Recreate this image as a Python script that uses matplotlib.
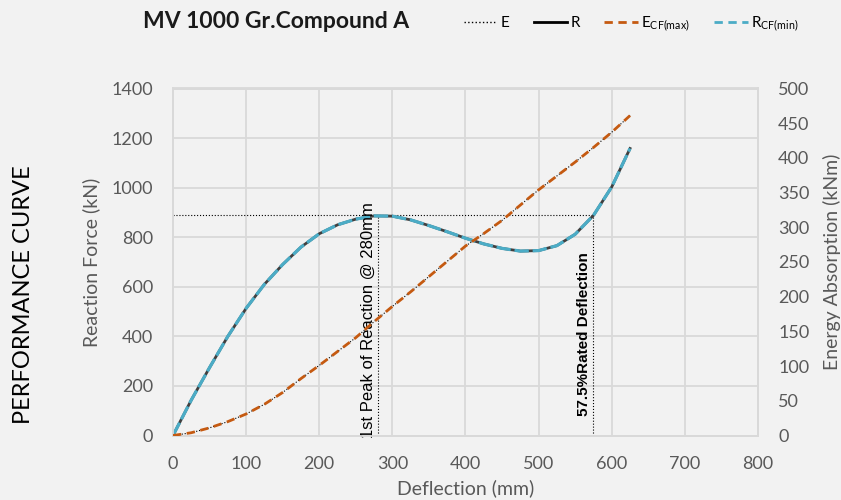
import matplotlib.pyplot as plt
from matplotlib.lines import Line2D

plt.rcParams['font.family'] = ['Lato', 'DejaVu Sans']

# deflection (mm)
deflection = [0, 25, 50, 75, 100, 125, 150, 175, 200, 225, 250, 275, 300,
              325, 350, 375, 400, 425, 450, 475, 500, 525, 550, 575, 600, 625]
# reaction force (kN)
reaction = [0, 143, 274, 400, 513, 610, 690, 760, 814, 850, 873, 886, 885,
            870, 847, 822, 796, 773, 755, 744, 746, 766, 812, 888, 1003, 1158]
# energy absorption (kNm)
energy = [0, 4, 11, 20, 31, 45, 62, 82, 101, 121, 141, 164, 186,
          207, 229, 251, 273, 291, 310, 332, 354, 374, 394, 415, 437, 461]

peak_defl = 280
rated_defl = 575
peak_force = 888

grey = '#595959'
bg = '#f2f2f2'
orange = '#c55a11'
cyan = '#4bacc6'

fig = plt.figure(figsize=(8.41, 5.0), dpi=100, facecolor=bg)
ax = fig.add_axes([0.2057, 0.129, 0.6956, 0.694])
ax.set_facecolor(bg)
ax2 = ax.twinx()

# reaction curves on the left axis
ax.plot(deflection, reaction, color='#404040', lw=2.0, zorder=3)
ax.plot(deflection, reaction, color=cyan, lw=2.3, dashes=(4.5, 1.2), zorder=4)

# energy curves on the right axis
ax2.plot(deflection, energy, color='black', lw=0.8, ls=':', zorder=3)
ax2.plot(deflection, energy, color=orange, lw=2.0, dashes=(3, 2), zorder=4)

# guide lines for peak and rated deflection
ax.plot([0, rated_defl], [peak_force, peak_force], color='black', lw=0.8, ls=':', zorder=2)
ax.plot([peak_defl, peak_defl], [0, peak_force], color='black', lw=0.8, ls=':', zorder=2)
ax.plot([rated_defl, rated_defl], [0, peak_force], color='black', lw=0.8, ls=':', zorder=2)
ax.text(peak_defl - 3, -10, '1st Peak of Reaction @ 280mm', rotation=90,
        ha='right', va='bottom', fontsize=12, family=['Liberation Sans', 'DejaVu Sans'],
        color='black', zorder=5)
ax.text(rated_defl - 4, 80, '57.5%Rated Deflection', rotation=90,
        ha='right', va='bottom', fontsize=11, fontweight='bold',
        family=['Liberation Sans', 'DejaVu Sans'], color='black', zorder=5)

ax.set_xlim(0, 800)
ax.set_ylim(0, 1400)
ax2.set_ylim(0, 500)
ax.set_xticks(range(0, 801, 100))
ax.set_yticks(range(0, 1401, 200))
ax2.set_yticks(range(0, 501, 50))
ax.grid(True, color='#d9d9d9', lw=1.3)
ax.set_axisbelow(True)

for a in (ax, ax2):
    a.tick_params(length=0, labelsize=13, labelcolor=grey, pad=14.5)
    for s in a.spines.values():
        s.set_color('#d9d9d9')
        s.set_linewidth(1.3)
ax.tick_params(axis='x', pad=15)

ax.set_xlabel('Deflection (mm)', fontsize=14, color=grey, labelpad=5)
ax.set_ylabel('Reaction Force (kN)', fontsize=14, color=grey, labelpad=8)
ax2.set_ylabel('Energy Absorption (kNm)', fontsize=14, color=grey, labelpad=10)

fig.text(0.028, 0.41, 'PERFORMANCE CURVE', rotation=90, ha='center', va='center',
         fontsize=17, color='black')
fig.text(0.17, 0.958, 'MV 1000 Gr.Compound A', ha='left', va='center',
         fontsize=16.5, fontweight='bold', color='#1a1a1a')

handles = [
    Line2D([], [], color='black', lw=1, ls=':'),
    Line2D([], [], color='black', lw=2),
    Line2D([], [], color=orange, lw=2, dashes=(3, 2)),
    Line2D([], [], color=cyan, lw=2, dashes=(3, 2)),
]
labels = ['E', 'R', r'E$_{\mathregular{CF(max)}}$', r'R$_{\mathregular{CF(min)}}$']
fig.legend(handles, labels, loc='center left', bbox_to_anchor=(0.535, 0.952),
           ncol=4, frameon=False, fontsize=11, handlelength=2.2,
           handletextpad=0.2, columnspacing=1.6)

fig.savefig('out.png', dpi=100, facecolor=bg)
